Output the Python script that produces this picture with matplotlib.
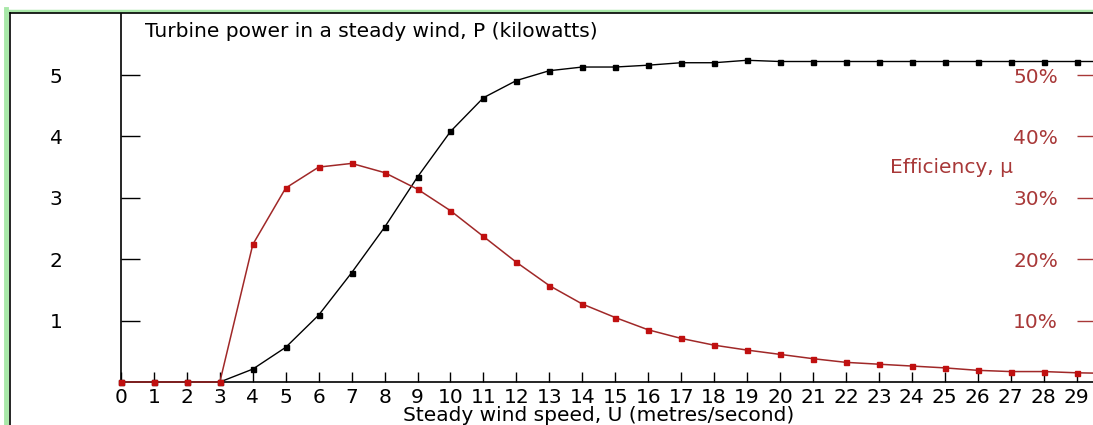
import matplotlib
matplotlib.use('Agg')
import matplotlib.pyplot as plt
from matplotlib.lines import Line2D
from matplotlib.ticker import FuncFormatter

# wind speed (m/s)
wind_speed = list(range(0, 31))

# turbine power P (kW)
power_kw = [0, 0, 0, 0, 0.21, 0.565, 1.09, 1.78, 2.52, 3.34,
            4.08, 4.63, 4.91, 5.07, 5.13, 5.13, 5.16, 5.20, 5.20, 5.24,
            5.22, 5.22, 5.22, 5.22, 5.22, 5.22, 5.22, 5.22, 5.22, 5.22, 5.22]

# efficiency mu (%)
efficiency_pct = [0, 0, 0, 0, 22.4, 31.6, 35.0, 35.6, 34.1, 31.4,
                  27.9, 23.7, 19.5, 15.7, 12.7, 10.5, 8.5, 7.1, 6.0, 5.2,
                  4.5, 3.8, 3.2, 2.9, 2.6, 2.3, 1.9, 1.7, 1.7, 1.5, 1.4]

kw_ticks = [1, 2, 3, 4, 5]
pct_ticks = [10, 20, 30, 40, 50]

RED_TXT = '#a83838'
RED_LINE = '#a02828'
RED_MARK = '#c01010'
FS = 14.5

W, H = 1093, 425
fig = plt.figure(figsize=(W / 100, H / 100), dpi=100)
fig.patch.set_facecolor('white')

# window frame (green + black edges, cropped on right/bottom)
fig.add_artist(Line2D([6 / W, 6 / W], [0, 1 - 9 / H], transform=fig.transFigure,
                      color='#a8e8a8', lw=3.5))
fig.add_artist(Line2D([6 / W, 1], [1 - 10.5 / H, 1 - 10.5 / H], transform=fig.transFigure,
                      color='#a8e8a8', lw=2.5))
fig.add_artist(Line2D([9.5 / W, 9.5 / W], [0, 1 - 13 / H], transform=fig.transFigure,
                      color='black', lw=1.2))
fig.add_artist(Line2D([9.5 / W, 1], [1 - 13 / H, 1 - 13 / H], transform=fig.transFigure,
                      color='black', lw=1.2))

left, bottom, top = 121, 382, 13
ax = fig.add_axes([left / W, (H - bottom) / H, (W - left) / W, (bottom - top) / H])
ax.set_facecolor('none')

ax.plot(wind_speed, power_kw, color='black', lw=1.0, marker='s', ms=3.6,
        mfc='black', mec='black', zorder=3, clip_on=False)

ax.set_xlim(0, 29.5)
ax.set_ylim(0, 6.01)

for s in ['top', 'right']:
    ax.spines[s].set_visible(False)
ax.spines['left'].set_linewidth(1.2)
ax.spines['bottom'].set_linewidth(1.2)

ax.set_xticks(wind_speed[:30])
ax.set_xticklabels([str(v) for v in wind_speed[:30]])
ax.tick_params(axis='x', direction='in', length=7.2, width=1.0, pad=4.5,
               labelsize=FS, colors='black')
ax.set_yticks(kw_ticks)
ax.tick_params(axis='y', direction='in', length=13.7, width=1.0, pad=42,
               labelsize=FS)

ax.set_xlabel('Steady wind speed, U (metres/second)', fontsize=FS)
ax.xaxis.set_label_coords(0.491, -0.09)
ax.xaxis.label.set_va('center')

ax.text(0.0247, 0.951, 'Turbine power in a steady wind, P (kilowatts)',
        transform=ax.transAxes, fontsize=FS, va='center', ha='left')

# efficiency on a twin axis, 10% per kW
ax2 = ax.twinx()
ax2.set_ylim(0, 60.1)
ax2.plot(wind_speed, efficiency_pct, color=RED_LINE, lw=1.1, marker='s', ms=3.6,
         mfc=RED_MARK, mec=RED_MARK, zorder=2, clip_on=False)
for s in ['top', 'right', 'left', 'bottom']:
    ax2.spines[s].set_visible(False)
ax2.set_yticks(pct_ticks)
ax2.yaxis.set_major_formatter(FuncFormatter(lambda v, p: f'{v:.0f}%'))
ax2.tick_params(axis='y', direction='in', length=11.5, width=1.0, pad=-25.2,
                labelsize=FS, colors=RED_TXT)
for t in ax2.get_yticklabels():
    t.set_ha('right')

ax2.text(0.791, 0.580, 'Efficiency, µ', transform=ax.transAxes, fontsize=FS,
         color=RED_TXT, va='center', ha='left')

fig.savefig('out.png', dpi=100)
